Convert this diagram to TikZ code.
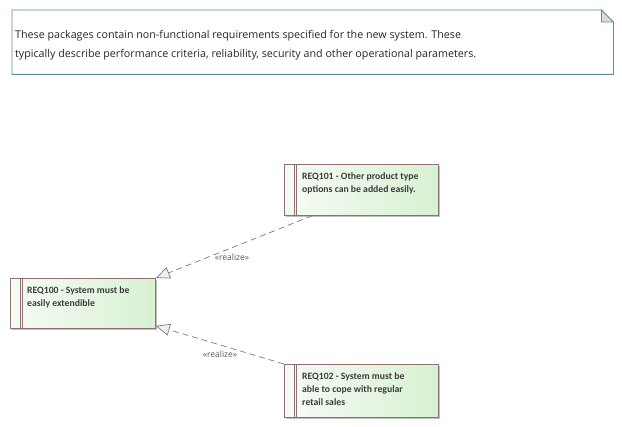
\documentclass[tikz,border=0pt]{standalone}
\usepackage{fontspec}
\setmainfont{Open Sans}
\newfontfamily\boxfont{Carlito}
\usetikzlibrary{arrows.meta,shadows,calc}
\definecolor{notebd}{HTML}{5E8AA0}
\definecolor{foldfill}{HTML}{DCDCDC}
\definecolor{reqbd}{HTML}{8E7272}
\definecolor{reqleft}{HTML}{F6FBF5}
\definecolor{reqright}{HTML}{D8F1D2}
\definecolor{reqtext}{HTML}{3C3C3C}
\definecolor{linkc}{HTML}{737A90}
\definecolor{tipfill}{HTML}{FAEEEA}
\definecolor{labc}{HTML}{5A5A5A}
\tikzset{
  reqbox/.style={draw=reqbd, line width=0.8pt, left color=reqleft, right color=reqright,
    minimum width=145pt, minimum height=50pt, inner sep=0pt, anchor=north west,
    drop shadow={shadow xshift=2pt, shadow yshift=-2pt, opacity=1, fill=black!25}},
  reqtxt/.style={font=\boxfont\bfseries\fontsize{9.7}{13}\selectfont, text=reqtext,
    align=left, anchor=north west, inner sep=0pt},
  realize/.style={draw=linkc, line width=0.7pt, dash pattern=on 6pt off 4pt,
    -{Triangle[length=14pt,width=12pt,fill=tipfill,line width=0.7pt]}},
  lab/.style={font=\fontsize{8.5}{10}\selectfont, text=labc, inner sep=0pt}
}
\begin{document}
\begin{tikzpicture}[x=1pt,y=-1pt]
\useasboundingbox (0,0) rectangle (622,427);
% note
\node[minimum width=601pt, minimum height=64pt, inner sep=0pt, anchor=north west] (note) at (12,10) {};
\draw[notebd, line width=0.8pt] (note.north west) -- ([xshift=-12pt]note.north east) -- ([yshift=-12pt]note.north east) -- (note.south east) -- (note.south west) -- cycle;
\filldraw[notebd, fill=foldfill, line width=0.8pt] ([xshift=-12pt]note.north east) -- ([xshift=-12pt,yshift=-12pt]note.north east) -- ([yshift=-12pt]note.north east) -- cycle;
\node[anchor=north west, align=left, inner sep=0pt, font=\fontsize{10.7}{18.8}\selectfont, text=black!85] (notetxt) at (15,30.5)
 {These packages contain non-functional requirements specified for the new system. These\\typically describe performance criteria, reliability, security and other operational parameters.};
% requirements
\node[reqbox, minimum width=154pt, minimum height=51pt] (r101) at (284,164) {};
\node[reqbox, minimum width=145pt, minimum height=50pt] (r100) at (10,278) {};
\node[reqbox, minimum width=154pt, minimum height=53pt] (r102) at (284,364) {};
\foreach \n in {r101,r100,r102}{
  \draw[reqbd, line width=0.8pt] ([xshift=10pt]\n.north west) -- ([xshift=10pt]\n.south west);
  \draw[reqbd, line width=0.8pt] ([xshift=12.5pt]\n.north west) -- ([xshift=12.5pt]\n.south west);
}
\node[reqtxt] (t101) at (302,172) {REQ101 - Other product type\\options can be added easily.};
\node[reqtxt] (t100) at (27,286) {REQ100 - System must be\\easily extendible};
\node[reqtxt] (t102) at (302,372) {REQ102 - System must be\\able to cope with regular\\retail sales};
% connectors
\draw[realize] ([xshift=28pt]r101.south west) -- (r100.north east);
\draw[realize] (r102.north west) -- ([yshift=3pt]r100.south east);
\node[lab] (l1) at (232,257) {«realize»};
\node[lab] (l2) at (220,354) {«realize»};
\end{tikzpicture}
\end{document}
